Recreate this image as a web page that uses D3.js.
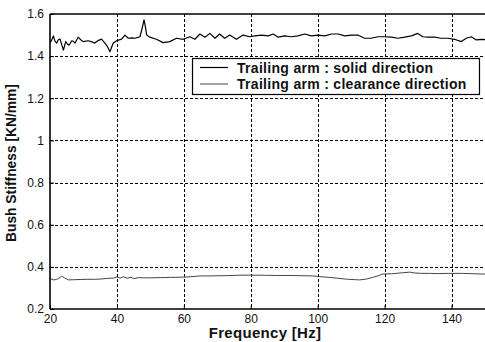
<!DOCTYPE html>
<html>
<head>
<meta charset="utf-8">
<script src="https://cdn.jsdelivr.net/npm/d3@7"></script>
<style>
  html, body { margin: 0; padding: 0; background: #fff; }
  svg { display: block; }
  text { font-family: Arial, "Liberation Sans", sans-serif; fill: #111; }
</style>
</head>
<body>
<svg id="chart" width="485" height="342"></svg>
<script>
// Bush stiffness of the trailing arm bush versus excitation frequency

const xTicks = [20, 40, 60, 80, 100, 120, 140];
const yTicks = [0.2, 0.4, 0.6, 0.8, 1.0, 1.2, 1.4, 1.6];
const yTickLabels = ["0.2", "0.4", "0.6", "0.8", "1", "1.2", "1.4", "1.6"];

const seriesNames = [
  "Trailing arm : solid direction",
  "Trailing arm : clearance direction"
];

// solid direction: frequency [Hz] / stiffness [KN/mm]
const solidFreq = [
  20.0, 20.3, 21.0, 21.5, 22.0, 22.5, 23.0, 23.5, 24.0, 24.7, 25.2, 25.7,
  26.5, 27.0, 27.5, 28.4, 29.2, 29.9, 31.4, 32.5, 33.4, 34.5, 35.4, 36.4,
  37.2, 37.9, 38.9, 39.9, 41.4, 42.4, 43.4, 44.5, 45.4, 46.5, 46.9, 47.5,
  48.1, 48.5, 48.9, 49.85, 51.8, 53.8, 55.8, 57.8, 59.8, 61.8, 63.3, 64.8,
  66.3, 67.8, 69.3, 70.7, 72.2, 73.7, 75.7, 77.7, 79.7, 81.2, 83.2, 85.2,
  86.7, 88.2, 90.1, 92.1, 94.1, 96.1, 98.1, 100.1, 102.1, 104.1, 106.1,
  108.1, 110.1, 112.0, 114.0, 116.0, 118.0, 120.0, 122.0, 124.0, 126.0,
  128.0, 129.9, 131.4, 132.9, 134.9, 136.9, 138.9, 140.9, 142.9, 144.4,
  145.9, 147.4, 149.3, 150.0
];
const solidVal = [
  1.465, 1.469, 1.496, 1.470, 1.462, 1.478, 1.481, 1.455, 1.429, 1.469, 1.458, 1.452,
  1.473, 1.470, 1.462, 1.490, 1.478, 1.469, 1.473, 1.468, 1.462, 1.475, 1.481, 1.462,
  1.445, 1.421, 1.462, 1.473, 1.481, 1.500, 1.485, 1.487, 1.485, 1.490, 1.492, 1.530,
  1.572, 1.540, 1.500, 1.490, 1.480, 1.464, 1.469, 1.485, 1.480, 1.492, 1.480, 1.505,
  1.490, 1.508, 1.485, 1.505, 1.485, 1.500, 1.480, 1.500, 1.492, 1.496, 1.500, 1.496,
  1.505, 1.490, 1.496, 1.492, 1.496, 1.505, 1.496, 1.500, 1.496, 1.505, 1.505,
  1.496, 1.500, 1.500, 1.485, 1.485, 1.492, 1.492, 1.490, 1.485, 1.490,
  1.496, 1.508, 1.492, 1.490, 1.490, 1.485, 1.485, 1.480, 1.469, 1.485,
  1.492, 1.477, 1.480, 1.478
];

// clearance direction: frequency [Hz] / stiffness [KN/mm]
const clearFreq = [
  20, 21, 22, 23, 23.5, 24.3, 25.5, 27, 29, 31, 33, 35, 37, 39, 40, 41, 42, 43,
  44.2, 45, 46.5, 48, 50, 53, 56, 59.7, 62, 64.8, 68, 72, 76, 79.7, 84, 88, 92,
  95, 98.5, 101, 103.6, 106, 109, 112.5, 114.5, 116.4, 118, 119.4, 122, 125.4,
  127.5, 129, 131, 133.4, 136, 139, 143.3, 147, 150
];
const clearVal = [
  0.345, 0.338, 0.340, 0.350, 0.356, 0.348, 0.338, 0.339, 0.340, 0.341, 0.341, 0.342,
  0.345, 0.347, 0.352, 0.347, 0.353, 0.346, 0.351, 0.344, 0.349, 0.348, 0.348, 0.349,
  0.350, 0.351, 0.353, 0.357, 0.357, 0.358, 0.360, 0.361, 0.360, 0.359, 0.359,
  0.358, 0.357, 0.353, 0.350, 0.346, 0.341, 0.338, 0.342, 0.350, 0.357, 0.366,
  0.367, 0.372, 0.375, 0.371, 0.369, 0.369, 0.368, 0.369, 0.369, 0.367, 0.366
];

const svg = d3.select("#chart");

const x = d3.scaleLinear().domain([20, 150]).range([50, 485]);
const y = d3.scaleLinear().domain([0.2, 1.6]).range([309, 14]);

// dotted grid
const grid = svg.append("g").attr("stroke", "#000").attr("stroke-width", 1)
  .attr("stroke-dasharray", "3,2").attr("fill", "none");
grid.selectAll("line.v").data(xTicks.slice(1)).join("line")
  .attr("class", "v")
  .attr("x1", d => Math.round(x(d)) + 0.5).attr("x2", d => Math.round(x(d)) + 0.5)
  .attr("y1", y(1.6)).attr("y2", y(0.2));
grid.selectAll("line.h").data(yTicks.slice(1, -1)).join("line")
  .attr("class", "h")
  .attr("x1", x(20)).attr("x2", x(150))
  .attr("y1", d => Math.round(y(d)) + 0.5).attr("y2", d => Math.round(y(d)) + 0.5);

// data lines
const line = (fx, fy) => d3.line()
  .x((d, i) => x(fx[i]))
  .y((d, i) => y(fy[i]))(fx);

svg.append("path")
  .attr("d", line(clearFreq, clearVal))
  .attr("fill", "none").attr("stroke", "#444").attr("stroke-width", 1);

svg.append("path")
  .attr("d", line(solidFreq, solidVal))
  .attr("fill", "none").attr("stroke", "#000").attr("stroke-width", 1.2)
  .attr("stroke-linejoin", "round");

// axes with inward ticks
const xAxis = d3.axisBottom(x).tickValues(xTicks).tickSize(-4).tickPadding(5)
  .tickFormat(d3.format("d"));
const gx = svg.append("g").attr("transform", `translate(0,${y(0.2)})`).call(xAxis);

const yAxis = d3.axisLeft(y).tickValues(yTicks).tickSize(-4).tickPadding(6)
  .tickFormat((d, i) => yTickLabels[i]);
const gy = svg.append("g").attr("transform", `translate(${x(20)},0)`).call(yAxis);

[gx, gy].forEach(g => {
  g.select(".domain").remove();
  g.selectAll(".tick line").attr("stroke", "#000").attr("stroke-width", 1);
  g.selectAll(".tick text").style("font-family", 'Arial, "Liberation Sans", sans-serif')
    .style("font-size", "12px").attr("fill", "#111");
});

// plot frame (top, left, bottom)
const frame = svg.append("g").attr("stroke", "#000").attr("stroke-width", 1.6);
frame.append("line").attr("x1", x(20)).attr("x2", x(150)).attr("y1", y(1.6)).attr("y2", y(1.6));
frame.append("line").attr("x1", x(20)).attr("x2", x(150)).attr("y1", y(0.2)).attr("y2", y(0.2));
frame.append("line").attr("x1", x(20)).attr("x2", x(20)).attr("y1", y(1.6)).attr("y2", y(0.2));

// axis titles
svg.append("text")
  .attr("x", 265).attr("y", 338)
  .attr("text-anchor", "middle")
  .style("font-size", "15px").style("font-weight", "bold")
  .style("letter-spacing", "0.3px")
  .text("Frequency [Hz]");

svg.append("text")
  .attr("transform", "translate(16,163) rotate(-90)")
  .attr("text-anchor", "middle")
  .style("font-size", "13.8px").style("font-weight", "bold")
  .text("Bush Stiffness [KN/mm]");

// legend
const legend = svg.append("g");
legend.append("rect")
  .attr("x", 192.5).attr("y", 58.5).attr("width", 287).attr("height", 36)
  .attr("fill", "#fff").attr("stroke", "#000").attr("stroke-width", 1.2);
const legendColors = ["#000", "#444"];
const legendWidths = [1.2, 1];
seriesNames.forEach((name, i) => {
  const cy = 67.5 + i * 16.5;
  legend.append("line")
    .attr("x1", 200).attr("x2", 228).attr("y1", cy).attr("y2", cy)
    .attr("stroke", legendColors[i]).attr("stroke-width", legendWidths[i]);
  legend.append("text")
    .attr("x", 237).attr("y", cy + 5)
    .style("font-size", "14px").style("font-weight", "bold")
    .style("letter-spacing", "0.3px")
    .text(name);
});
</script>
</body>
</html>
